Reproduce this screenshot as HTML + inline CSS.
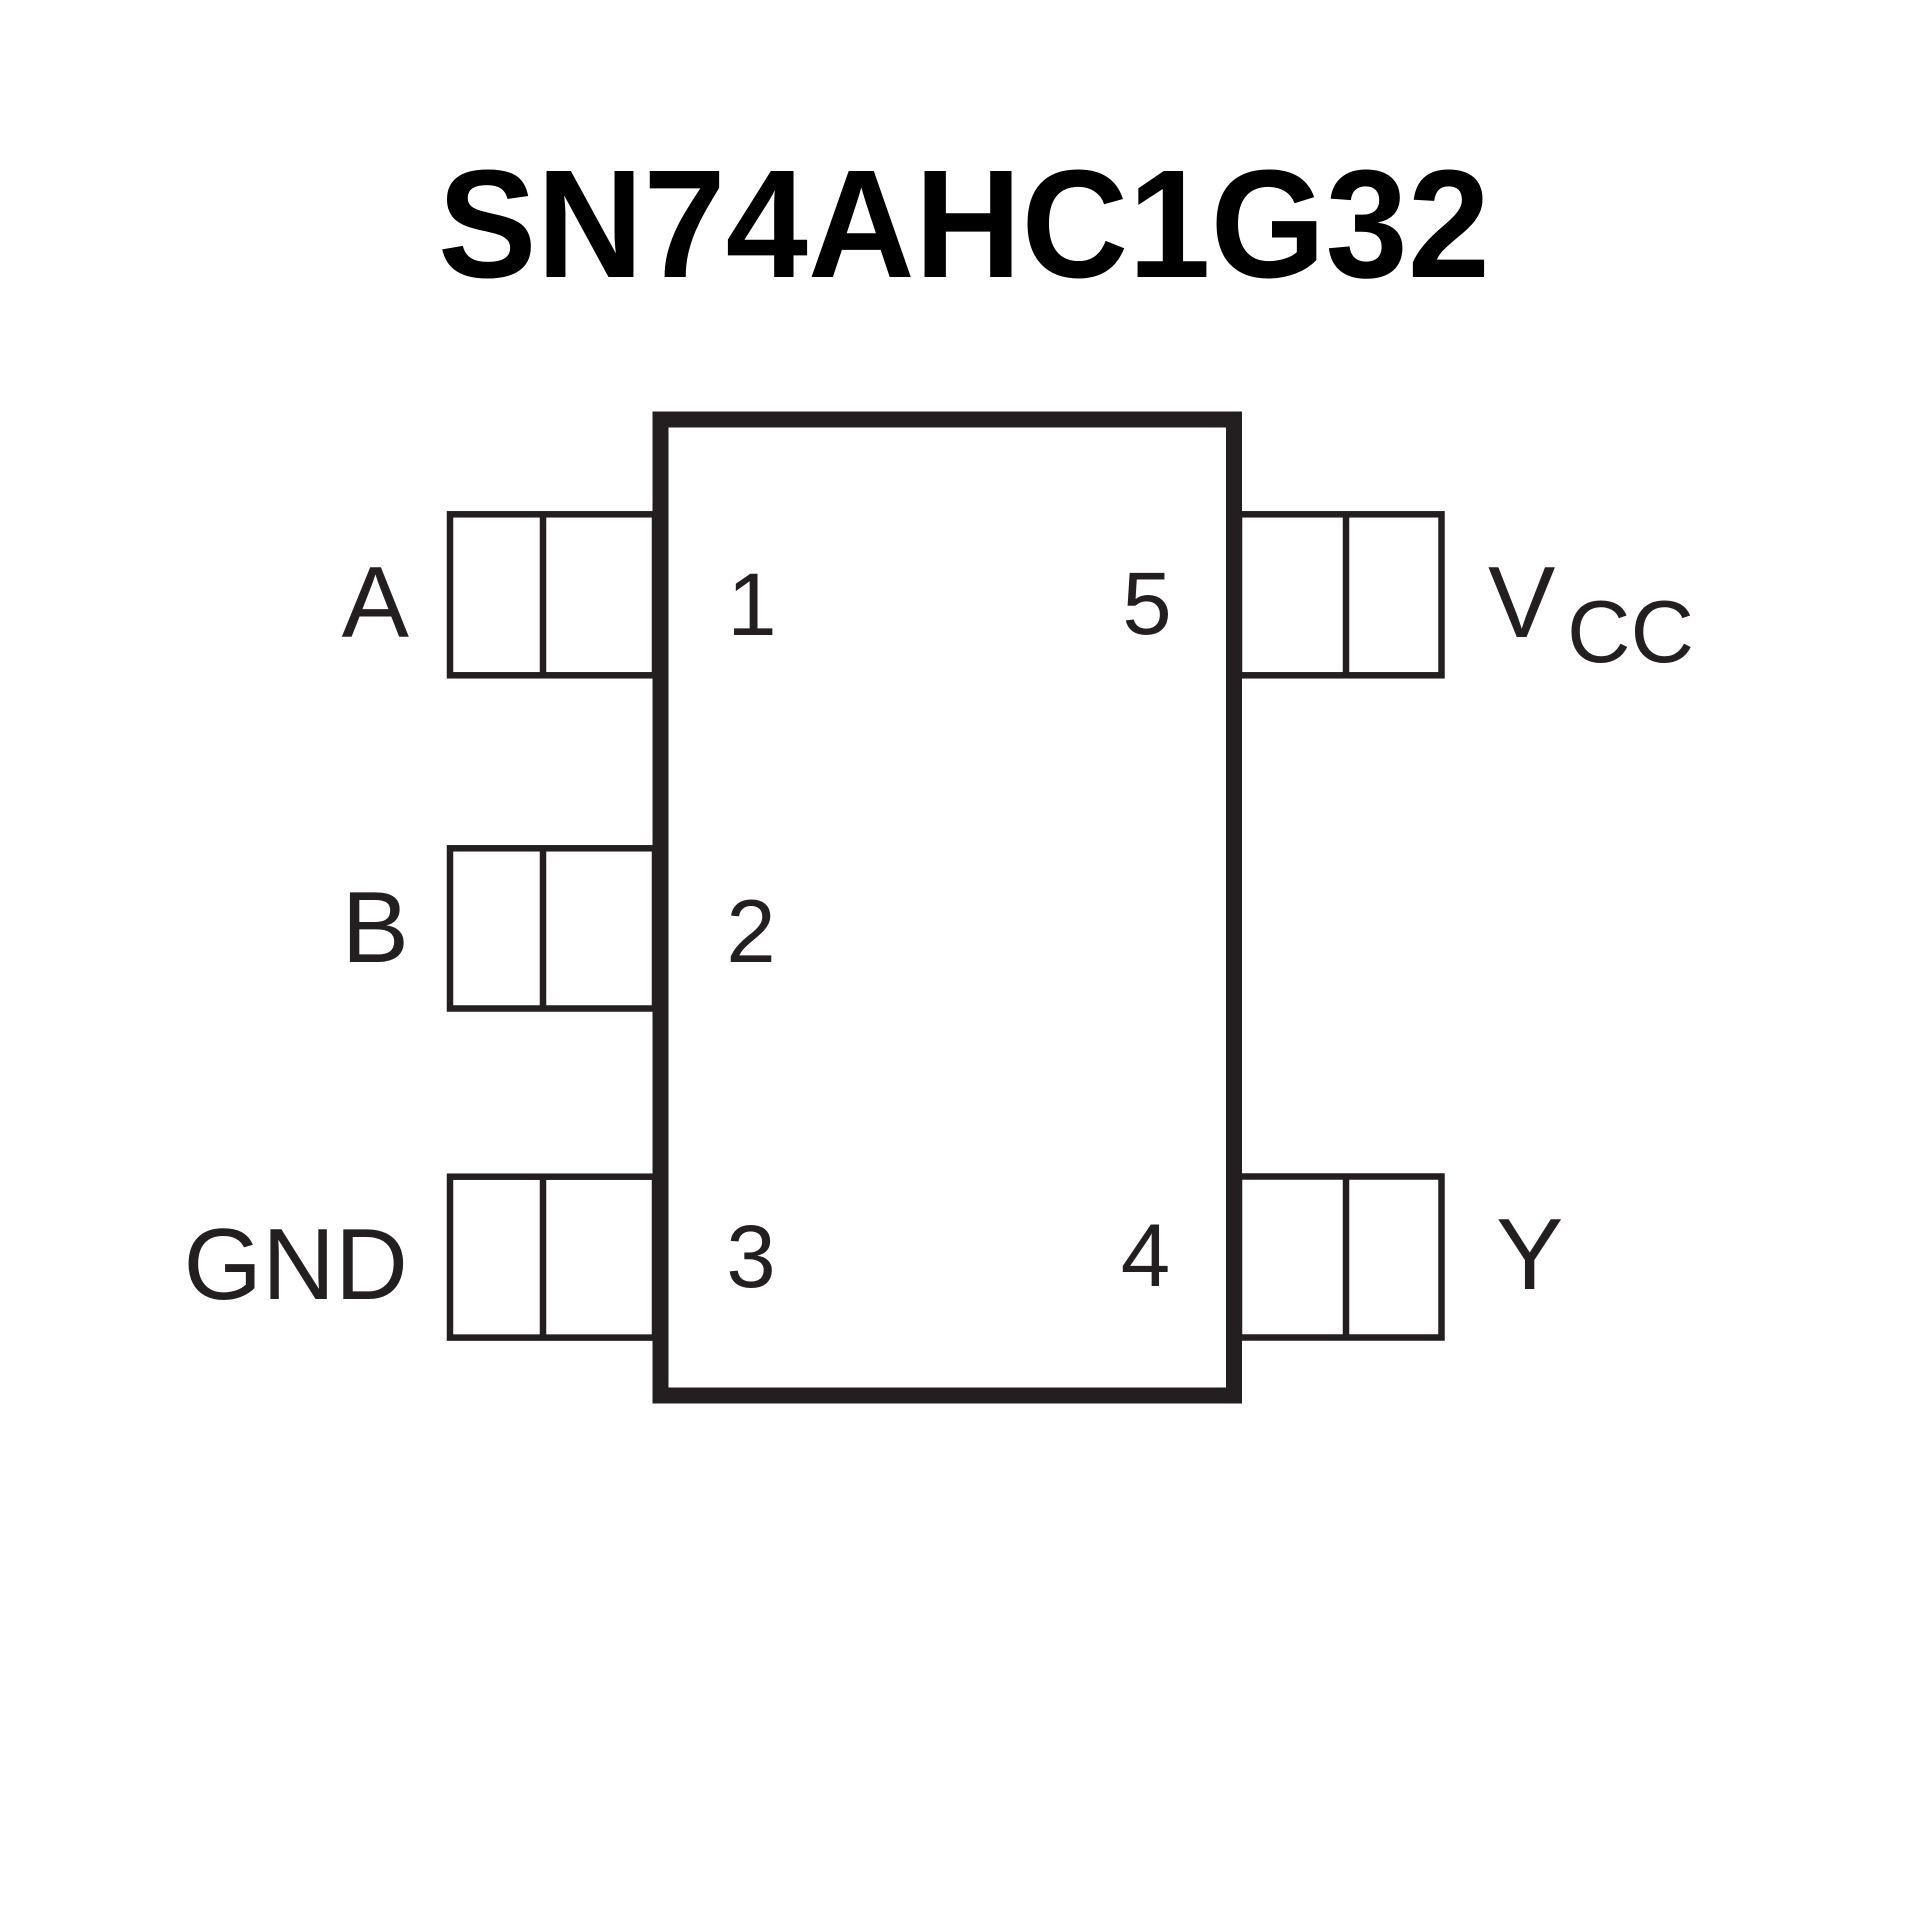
<!DOCTYPE html>
<html>
<head>
<meta charset="utf-8">
<style>
  html, body { margin: 0; padding: 0; background: #ffffff; }
  svg { display: block; }
</style>
</head>
<body>
<svg width="1920" height="1920" viewBox="0 0 1920 1920" xmlns="http://www.w3.org/2000/svg">
  <rect x="0" y="0" width="1920" height="1920" fill="#ffffff"/>

  <!-- Title -->
  <text x="438" y="277" font-family="'Liberation Sans', Arial, sans-serif" font-weight="700" font-size="154" fill="#000000" textLength="1052" lengthAdjust="spacingAndGlyphs">SN74AHC1G32</text>

  <g fill="none" stroke="#231f20" stroke-width="6.5">
    <!-- Left pins -->
    <rect x="450" y="514.3" width="205" height="161"/>
    <line x1="543" y1="514.3" x2="543" y2="675.3"/>
    <rect x="450" y="848.3" width="205" height="160.2"/>
    <line x1="543" y1="848.3" x2="543" y2="1008.5"/>
    <rect x="450" y="1176.7" width="205" height="160.9"/>
    <line x1="543" y1="1176.7" x2="543" y2="1337.6"/>
    <!-- Right pins -->
    <rect x="1239" y="514.3" width="202.5" height="161"/>
    <line x1="1346" y1="514.3" x2="1346" y2="675.3"/>
    <rect x="1239" y="1176.5" width="202.5" height="161"/>
    <line x1="1346" y1="1176.5" x2="1346" y2="1337.5"/>
  </g>

  <!-- Body -->
  <rect x="660.5" y="419.5" width="573.5" height="976" fill="#ffffff" stroke="#231f20" stroke-width="16"/>

  <!-- Labels -->
  <g font-family="'Liberation Sans', Arial, sans-serif" fill="#231f20">
    <text x="409" y="637" font-size="101" text-anchor="end">A</text>
    <text x="409" y="962" font-size="101" text-anchor="end">B</text>
    <text x="408" y="1299" font-size="101" text-anchor="end">GND</text>

    <text x="752" y="635" font-size="89" text-anchor="middle">1</text>
    <text x="751" y="962" font-size="89" text-anchor="middle">2</text>
    <text x="751" y="1287" font-size="89" text-anchor="middle">3</text>

    <text x="1147" y="634" font-size="89" text-anchor="middle">5</text>
    <text x="1145.5" y="1286" font-size="89" text-anchor="middle">4</text>

    <text x="1488" y="637" font-size="101">V</text>
    <text x="1567" y="662" font-size="88">CC</text>
    <text x="1496" y="1289" font-size="101">Y</text>
  </g>
</svg>
</body>
</html>
